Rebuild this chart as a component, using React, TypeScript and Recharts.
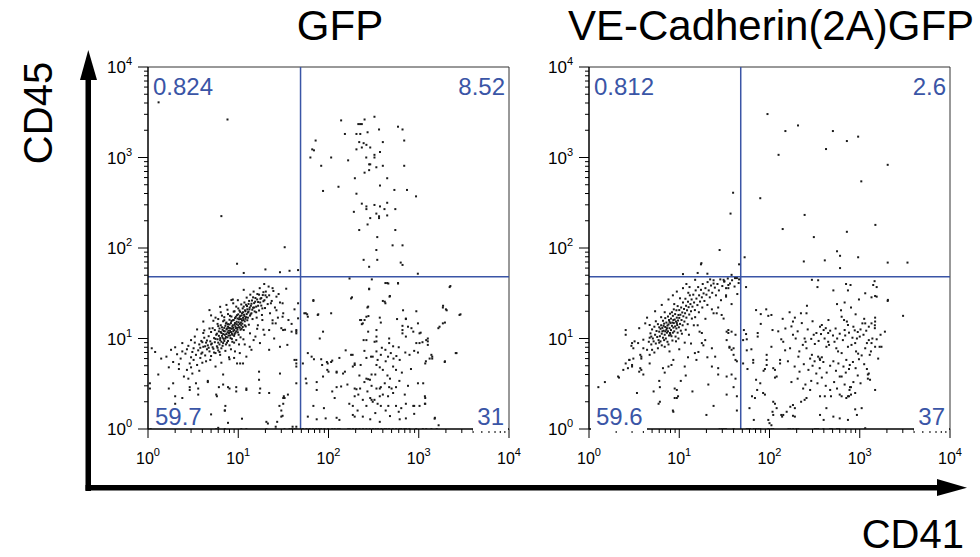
import { ScatterChart, Scatter, XAxis, YAxis, ReferenceLine } from 'recharts';

// flow plots: CD41 (x) vs CD45 (y), log axes 10^0..10^4, quadrant gates in blue

const MAJOR_TICKS = [1, 10, 100, 1000, 10000];
const TICK_EXPONENTS = ['0', '1', '2', '3', '4'];
const LOG_TICKS = [
  1, 2, 3, 4, 5, 6, 7, 8, 9,
  10, 20, 30, 40, 50, 60, 70, 80, 90,
  100, 200, 300, 400, 500, 600, 700, 800, 900,
  1000, 2000, 3000, 4000, 5000, 6000, 7000, 8000, 9000,
  10000,
];

const PANEL_TITLES = ['GFP', 'VE-Cadherin(2A)GFP'];
const X_TITLE = 'CD41';
const Y_TITLE = 'CD45';

// quadrant percentages: upper-left, upper-right, lower-left, lower-right
const GFP_QUADRANTS = ['0.824', '8.52', '59.7', '31'];
const VECAD_QUADRANTS = ['0.812', '2.6', '59.6', '37'];

const GFP_GATE = { x: 49, y: 48 };
const VECAD_GATE = { x: 48, y: 48 };

// GFP panel events [CD41, CD45]
const GFP_DOTS: [number, number][] = [
  // upper left
  [1.31, 4070], [7.6, 2630], [6.5, 225], [32.7, 102], [9.7, 67], [11.5, 53], [20, 58], [29, 54], [37, 56], [46, 57],
  // upper right
  [323, 2820], [138, 2570], [251, 2630], [214, 2340], [224, 2340], [234, 2340], [363, 2040], [589, 2190], [661, 2040],
  [152, 1820], [204, 1820], [225, 1820], [271, 1900], [72, 1540], [219, 1480], [245, 1440], [263, 1380], [400, 1480],
  [690, 1540], [66, 1230], [69, 1200], [204, 1230], [234, 1290], [290, 1290], [372, 1150], [63, 1000], [107, 1000],
  [165, 930], [262, 1000], [323, 1000], [323, 1070], [83, 810], [282, 840], [290, 840], [339, 780], [400, 810],
  [690, 810], [282, 725], [251, 680], [196, 590], [447, 590], [129, 475], [87, 427], [372, 490], [537, 438], [741, 438],
  [204, 398], [933, 372], [234, 309], [447, 316], [263, 288], [263, 269], [323, 299], [372, 288], [417, 269], [550, 269],
  [191, 251], [339, 240], [363, 224], [363, 214], [290, 214], [447, 229], [271, 182], [219, 158], [550, 158], [347, 132],
  [513, 107], [661, 107], [339, 95], [245, 74], [347, 74], [631, 69], [661, 65], [282, 62], [977, 52],
  // lower left
  [1.1, 7.8], [1.2, 7.1], [1.05, 3.2], [1.05, 2.8], [1.3, 4], [1.4, 6], [1.07, 1],
  [1.6, 6.3], [1.8, 7.5], [1.9, 5.5], [2.0, 8], [2.1, 6.7], [2.2, 4.6], [1.9, 3.2], [2.3, 6], [2.4, 7.2], [1.7, 4.8],
  [2.2, 5.2], [2.5, 3.8], [2.0, 1.9], [1.7, 2.8], [2.0, 2.3], [2.4, 2.2],
  [2.6, 6.8], [2.7, 4.5], [2.8, 8.3], [2.9, 5.3], [2.9, 2.7], [3.0, 6.2], [3.1, 7.1], [3.2, 5.8], [3.3, 9], [3.4, 3.2],
  [3.4, 6.6], [3.0, 4.8], [2.7, 7.6], [3.2, 7.8], [3.5, 5.1], [3.3, 10.5], [2.8, 3.6], [2.9, 2.9], [3.1, 4.1],
  [3.6, 7.4], [3.7, 8.6], [3.8, 6.1], [3.9, 9.4], [4.0, 7.0], [4.0, 5.4], [4.1, 8.1], [4.2, 10.2], [4.3, 6.5], [4.4, 9.0],
  [4.5, 7.6], [3.7, 4.4], [4.1, 11.5], [4.4, 5.6], [3.9, 6.8], [4.2, 12.3], [4.6, 3.4], [3.6, 2.4], [3.6, 2.8],
  [4.6, 8.4], [4.7, 10.6], [4.8, 7.2], [4.9, 9.3], [5.0, 11.8], [5.0, 6.4], [5.1, 8.8], [5.2, 13.0], [5.3, 7.7],
  [5.4, 10.1], [5.5, 9.1], [5.5, 12.4], [5.6, 6.9], [5.7, 11.0], [5.8, 8.2], [5.9, 14.5], [5.9, 9.8], [6.0, 7.4],
  [4.8, 12.9], [5.3, 15.7], [4.9, 5.8], [5.6, 4.9], [5.7, 1], [5.8, 2.3], [6.0, 16.4], [4.6, 3.3], [5.7, 2.4],
  [6.1, 10.7], [6.2, 12.9], [6.2, 8.6], [6.3, 9.6], [6.4, 14.0], [6.5, 11.5], [6.5, 7.8], [6.6, 13.3], [6.7, 10.2],
  [6.8, 15.5], [6.8, 8.9], [6.9, 12.1], [7.0, 9.4], [7.0, 17.2], [7.1, 11.0], [7.2, 13.8], [7.2, 7.3], [7.3, 10.4],
  [7.4, 15.0], [7.4, 12.6], [7.5, 9.0], [7.6, 11.7], [7.7, 14.4], [7.7, 18.6], [7.8, 10.8], [7.9, 13.1], [8.0, 8.4],
  [8.0, 16.1], [6.3, 6.6], [6.6, 17.9], [7.1, 1.6], [7.2, 1.8], [6.8, 4.0], [7.1, 1], [6.4, 19.5], [7.6, 20.8], [7.9, 6.2],
  [6.0, 1.03], [7.7, 1.17], [5.0, 1.45], [7.1, 1.6], [7.7, 2.9], [6.1, 2.9], [6.8, 3.1],
  [8.1, 12.2], [8.2, 10.1], [8.3, 14.8], [8.4, 17.5], [8.5, 11.3], [8.6, 9.2], [8.6, 13.6], [8.7, 15.9], [8.8, 12.0],
  [8.9, 19.8], [9.0, 10.7], [9.1, 14.2], [9.2, 16.8], [9.3, 11.6], [9.4, 13.0], [9.5, 22.5], [9.5, 9.6], [9.6, 15.3],
  [9.7, 18.1], [9.8, 12.5], [9.9, 26.5], [10.0, 14.0], [10.1, 11.0], [10.2, 16.3], [10.3, 20.4], [10.4, 13.2],
  [10.5, 17.7], [10.6, 10.3], [10.7, 15.0], [10.8, 23.8], [10.9, 12.8], [11.0, 19.0], [8.3, 7.6], [8.8, 24.5],
  [9.2, 7.2], [10.2, 8.6], [8.0, 2.8], [9.5, 2.6], [10.8, 1], [10.5, 5.3], [9.7, 5.3], [11.0, 1.3], [8.7, 27],
  [9.5, 2.9], [11.3, 5.3], [12.3, 2.8],
  [11.1, 14.6], [11.2, 21.5], [11.3, 16.9], [11.5, 12.4], [11.6, 18.3], [11.7, 25.0], [11.8, 15.5], [12.0, 20.0],
  [12.1, 13.6], [12.2, 17.2], [12.4, 28.3], [12.5, 22.8], [12.6, 15.9], [12.8, 19.4], [13.0, 24.1], [13.1, 14.2],
  [13.3, 21.0], [13.5, 17.9], [13.6, 30.5], [13.8, 23.0], [14.0, 19.0], [14.2, 26.3], [14.4, 16.4], [14.6, 21.9],
  [14.8, 33.0], [15.0, 24.6], [11.4, 9.8], [12.3, 2.7], [12.3, 1], [13.5, 11.4], [14.0, 7.5], [11.5, 34.5],
  [15.2, 19.9], [15.5, 28.0], [15.8, 22.5], [16.0, 17.0], [16.3, 31.0], [16.6, 25.3], [17.0, 20.4], [17.3, 36.0],
  [17.6, 27.5], [18.0, 23.1], [18.3, 18.2], [18.7, 30.2], [19.0, 25.8], [19.4, 40.0], [19.8, 21.7], [20.2, 33.0],
  [20.7, 28.6], [21.2, 24.0], [21.7, 37.5], [22.0, 30.0], [16.5, 14.0], [17.0, 4.3], [17.0, 3.5], [17.2, 2.5],
  [17.5, 2.8], [20.5, 1], [19.0, 12.5], [22.0, 7.5], [22.0, 2.5], [18.5, 16.0], [20.5, 1.2], [21.3, 1.15],
  [22.5, 19.0], [23.5, 26.0], [24.5, 33.5], [25.5, 22.0], [26.5, 29.0], [27.5, 17.0], [29.0, 25.0], [30.0, 13.0],
  [31.5, 19.0], [33.0, 12.5], [36.0, 16.0], [39.0, 14.5], [42.0, 21.0], [44.0, 11.4], [44.0, 12.4], [46.0, 16.7],
  [46.0, 24.5], [29.0, 4.1], [31.5, 1.9], [31.5, 2.2], [32.0, 2.3], [30.0, 1.6], [31.0, 1.4], [30.0, 1.37], [44.0, 3.2],
  [44.0, 5.3], [44.0, 5.8], [26.0, 1], [32.5, 1], [37.0, 1], [39.0, 1], [42.0, 1], [44.0, 1], [24.0, 36.0], [28.0, 31.0],
  [25.0, 10.0], [35.0, 8.5], [27, 1.2], [31, 24.5], [34, 35.5], [23, 24.5], [26, 14.7], [31, 17.4], [39, 11.9],
  [44, 11.9], [29, 8.1], [42, 5.8], [44, 4.9], [35.5, 2.4], [32.6, 2.2], [28.6, 1.8], [26, 1.06], [40, 1.06], [44, 1.06],
  [5.6, 9.9], [5.8, 11.3], [6.0, 9.0], [6.1, 12.0], [6.3, 10.1], [6.4, 11.8], [6.5, 9.2], [6.6, 10.7], [6.7, 12.5],
  [6.8, 11.2], [6.9, 9.9], [7.0, 13.1], [7.1, 12.0], [7.2, 10.0], [7.3, 14.6], [7.4, 11.2], [7.5, 12.9], [7.6, 10.3],
  [7.7, 13.5], [7.8, 12.2], [7.9, 11.5], [8.0, 14.3], [8.1, 10.8], [8.2, 13.0], [8.3, 11.8], [8.4, 15.6], [8.5, 12.8],
  [8.6, 11.0], [8.7, 14.0], [8.8, 13.1], [8.9, 16.0], [9.0, 12.4], [9.1, 11.2], [9.2, 14.8], [9.3, 13.6], [9.4, 17.4],
  [9.5, 12.0], [9.6, 14.4], [9.7, 13.1], [9.8, 16.6], [9.9, 11.7], [10.0, 18.5], [10.1, 15.1], [10.2, 13.3],
  [10.3, 17.0], [10.4, 14.5], [10.5, 19.7], [10.6, 12.5], [10.7, 16.4], [10.8, 14.0], [10.9, 18.0], [11.0, 15.8],
  [11.2, 13.4], [11.3, 19.5], [11.4, 16.0], [11.5, 22.5], [11.7, 17.6], [11.8, 14.0], [11.9, 20.5], [12.0, 16.5],
  [12.2, 23.6], [12.4, 18.6], [12.6, 21.0], [12.8, 17.0], [13.0, 19.8], [13.2, 26.0], [13.4, 22.0], [13.7, 18.5],
  [14.0, 24.2], [14.3, 20.8], [14.6, 28.5], [15.0, 22.0], [15.4, 25.5], [15.8, 19.5], [16.2, 27.0], [16.6, 23.0],
  [17.0, 30.5], [17.5, 25.0], [18.0, 28.0], [18.5, 21.5], [19.0, 32.5], [19.5, 26.5], [20.0, 30.0], [5.2, 8.0],
  [5.4, 7.0], [5.0, 8.6], [4.7, 7.9], [4.5, 9.5], [4.3, 8.2], [4.0, 9.1], [3.8, 7.9], [5.9, 7.9], [6.2, 7.1], [6.7, 8.3],
  [7.3, 8.6], [7.7, 9.4], [8.5, 9.9], [9.0, 9.0], [7.0, 15.9], [6.0, 13.7], [8.1, 17.8], [9.1, 20.0], [10.0, 21.5],
  [2.4, 8.9], [5.0, 18.0], [6.3, 22.4], [8.4, 26.6], [4.8, 20.6], [4.1, 15.4], [3.5, 12.6], [5.6, 17.0], [7.4, 23.5],
  [13.4, 8.1], [17.4, 8.9], [22, 12.4], [24, 14.7], [24, 15.9], [10.4, 6.9], [12.3, 6.3], [31.4, 12.4], [15.5, 10.5],
  [19.5, 11.0], [11.8, 8.6], [14.8, 9.6], [9.0, 6.1], [16.2, 12.8], [26.5, 20.5], [6.5, 5.4], [8.0, 5.9], [3.0, 9.6],
  // lower right
  [282, 35], [447, 41], [589, 41], [68, 26], [182, 28.5], [400, 26], [427, 24.5], [479, 29.5], [2240, 38], [54, 19],
  [58, 18.5], [77, 18.5], [107, 19], [270, 22], [277, 17.7], [940, 20], [1860, 23], [2000, 21], [1950, 15], [2900, 18.5],
  [224, 16], [251, 16], [234, 14.4], [370, 17], [380, 15], [575, 16.4], [720, 16.4], [660, 13.8], [660, 12.4],
  [660, 11.4], [340, 12.4], [720, 10.5], [870, 11.9], [1050, 11.6], [1260, 10], [1260, 9.3], [1260, 8.5], [940, 8.9],
  [1100, 9.1], [1650, 13], [80, 10], [263, 9.6], [324, 9.2], [340, 9.3], [470, 8.9], [470, 10], [245, 9.6],
  [171, 46], [302, 45], [427, 41], [282, 35.5],
  [1500, 1.3], [1170, 2.3], [1170, 1.9], [1020, 1.8], [870, 1.8], [1120, 3.2], [980, 3.2], [1320, 6], [1380, 6.6],
  [1940, 5.5], [2620, 6.9], [1700, 13.5], [1850, 14.7], [1850, 22], [2040, 20.5], [2200, 37], [2830, 18.2], [1210, 9.6],
  [1020, 8.9], [1020, 11.4], [830, 13], [760, 13.5], [720, 16.6], [980, 14.7], [670, 20.5], [475, 29], [460, 40.5],
  [420, 25.5], [590, 40.5], [275, 22.5], [263, 17.4], [230, 16], [240, 14.7], [275, 11.9], [340, 10.5], [178, 27.7],
  [87, 11.9], [56, 19], [59, 17.4], [68, 26.6], [76, 18.2], [59, 6.9], [65, 6.3], [52, 5.3], [98, 5.3], [107, 5.5],
  [100, 4.3], [87, 3.8], [123, 4.3], [145, 4.1], [195, 5.3],
  [178, 6.6], [185, 6.6], [69, 5.9], [83, 5.9], [85, 5.1], [96, 5.5], [110, 5.7], [132, 6.1], [56, 3.6], [74, 2.7],
  [97, 4.5], [123, 4.2], [152, 4.3], [186, 4.9], [195, 5.1], [227, 5.1], [263, 6.1], [296, 6.3], [309, 6.3], [340, 7.2],
  [380, 6.6], [427, 7.5], [457, 6.3], [490, 6.9], [525, 6.0], [565, 6.4], [615, 5.8], [710, 7.0], [790, 6.6], [890, 7.3],
  [980, 7.0], [1180, 5.3], [1200, 5.6], [1410, 6.3], [1410, 6.0], [1950, 5.6], [2570, 6.9], [340, 5.1], [370, 4.8],
  [400, 4.5], [430, 5.6], [450, 3.9], [480, 3.6], [520, 4.9], [560, 4.5],
  [263, 3.6], [275, 3.55], [288, 3.5], [340, 2.8], [370, 2.8], [380, 2.9], [470, 2.9], [500, 2.8], [560, 2.9], [195, 2.8],
  [204, 2.75], [224, 2.8], [162, 3.1], [123, 2.9], [138, 2.95], [110, 2.6], [74, 3.3], [57, 3.2], [117, 2.2], [195, 2.3],
  [214, 2.4], [290, 2.2], [300, 2.1], [309, 2.0], [323, 2.1], [370, 2.3], [400, 2.4], [457, 2.3], [560, 1.8], [640, 1.7],
  [720, 1.9], [890, 1.8], [1180, 1.9], [1180, 2.2], [68, 1.8], [89, 1.7], [170, 1.9], [186, 1.8], [240, 2.1], [263, 1.8],
  [350, 1.9], [380, 1.8], [460, 1.8],
  [59, 1.37], [74, 1.28], [93, 1.31], [123, 1.33], [132, 1.26], [240, 1.37], [290, 1.28], [370, 1.2], [480, 1.39],
  [615, 1.28], [720, 1.31], [890, 1.47], [1510, 1.33], [1660, 1.1], [186, 1.43], [195, 1.37],
  [250, 3.3], [300, 3.0], [330, 4.0], [420, 3.2], [520, 2.5], [610, 3.4], [650, 4.2], [760, 3.0], [820, 4.6], [300, 4.0],
  [350, 5.8], [600, 8.0], [390, 7.9], [520, 8.2], [250, 7.3], [220, 3.9], [155, 7.4], [700, 2.4], [270, 2.6], [430, 1.6],
  [600, 1.55], [330, 1.5], [210, 1.6],
  [57, 1], [67, 1], [73, 1], [83, 1], [99, 1], [117, 1], [127, 1], [133, 1], [165, 1], [172, 1], [187, 1], [203, 1],
  [221, 1], [241, 1], [263, 1], [286, 1], [311, 1], [333, 1], [354, 1], [385, 1], [419, 1], [437, 1], [470, 1], [516, 1],
  [562, 1], [612, 1], [638, 1], [694, 1], [724, 1], [787, 1], [936, 1], [1110, 1], [1210, 1], [1380, 1], [1580, 1],
  [52, 1], [62, 1], [78, 1], [90, 1], [110, 1],
];

// VE-Cadherin(2A)GFP panel events [CD41, CD45]
const VECAD_DOTS: [number, number][] = [
  // upper left
  [39.5, 408], [37, 240], [28, 95], [17.6, 68], [11, 51.5], [20.5, 52], [17.4, 66], [46, 66], [16, 53], [38, 50.5],
  // upper right
  [95, 3020], [207, 2260], [150, 1960], [504, 1960], [960, 1700], [720, 1520], [423, 1240], [126, 1070], [2040, 830],
  [1040, 545], [79, 355], [245, 232], [140, 162], [1490, 180], [720, 151], [310, 132], [560, 92], [605, 82], [53, 79],
  [240, 71], [410, 73], [960, 79], [2040, 69], [3380, 69], [605, 60],
  // lower left
  [1.27, 2.9], [1.5, 3.3], [2.1, 3.8], [2.4, 4.5], [2.8, 5.8], [3.1, 6], [3.0, 5.1], [3.8, 6], [3.7, 4.7], [4.0, 4.0],
  [6.1, 2.9], [4.7, 5.3], [6.6, 4.7], [7.6, 4.9], [8.6, 5.8], [8.9, 2.8], [9.4, 2.2], [9.7, 2.3], [8.6, 1.55],
  [5.9, 1.9], [3.4, 2.5], [11.5, 4.9], [15.5, 5.8], [17.8, 8.9], [19.4, 9.6], [16.8, 11.9], [17.8, 11.5], [24, 19],
  [26, 19], [29.5, 18.2], [31, 16.6], [35, 12.4], [33.5, 11.9], [38, 11.9], [42, 11], [33.5, 9.6], [36, 8.1], [23, 4.9],
  [27, 4.7], [33.5, 3.8], [38, 4], [42, 5.8], [43.5, 5.6], [40, 2.9], [42, 3.6], [43.5, 2.3], [38, 7.5], [40, 7.8],
  [40, 6.6], [24, 1.8], [20, 1.43], [33.5, 2.4], [43.5, 1.6], [29.5, 1], [31, 1], [32, 1], [40, 1], [28, 1], [33, 1],
  [2.15, 3.7], [2.55, 5.3], [2.55, 12.4], [2.55, 11], [2.95, 8.3], [3.5, 8.9], [4.0, 7.8], [3.8, 4.5], [3.6, 4.3],
  [4.7, 6.6], [6.1, 2.0], [8.5, 1.6], [9.4, 2.7], [8.9, 2.2], [4.2, 14.7], [4.7, 14.1], [3, 8.9], [3.1, 7.8],
  [3.2, 9.3], [4.0, 9.7], [4.4, 7.5], [4.9, 10.5], [3.7, 6.6], [3.8, 6.3], [2.8, 5.8], [3.0, 4.9], [2.7, 4.7],
  [6.9, 4.2], [8.2, 5.1], [11.8, 3.9], [14.9, 6.9], [16.3, 7.1], [18.5, 8.4], [20.5, 6.2], [23, 7.8], [25, 6.3], [27, 4.0],
  [35, 11.5], [36, 7.9], [33, 30], [35, 36], [31.6, 43], [13, 37], [15, 44.5], [24, 40.5], [31, 44.5], [35, 39],
  [41.5, 46.5], [12.5, 6.2], [10.4, 3.4], [14, 2.6], [21, 3.1], [6.0, 3.4], [5.2, 2.6],
  [4.6, 9.2], [4.8, 11.4], [4.9, 8.6], [5.0, 12.6], [5.1, 10.0], [5.2, 9.3], [5.3, 13.5], [5.4, 11.0], [5.5, 8.8],
  [5.6, 12.1], [5.7, 10.4], [5.8, 14.4], [5.9, 9.6], [6.0, 11.9], [5.0, 7.5], [5.5, 15.5], [4.7, 10.2], [5.3, 7.0],
  [5.8, 7.8], [6.0, 13.3],
  [6.1, 10.6], [6.2, 12.8], [6.2, 9.3], [6.3, 14.0], [6.4, 11.3], [6.4, 8.4], [6.5, 13.1], [6.6, 10.2], [6.6, 15.7],
  [6.7, 12.2], [6.8, 9.6], [6.8, 14.6], [6.9, 11.0], [7.0, 13.4], [7.0, 16.8], [7.1, 10.0], [7.2, 12.5], [7.2, 15.0],
  [7.3, 11.6], [7.4, 13.9], [7.4, 9.2], [7.5, 17.5], [7.5, 12.0], [7.6, 14.3], [7.7, 10.8], [7.7, 16.0], [7.8, 13.0],
  [7.9, 11.5], [7.9, 18.8], [8.0, 14.8], [6.3, 17.2], [6.9, 8.1], [7.6, 8.6], [6.5, 12.0], [7.0, 12.0], [7.3, 13.0],
  [6.7, 13.8], [7.8, 15.3], [6.0, 9.0], [6.9, 19.5],
  [8.1, 12.4], [8.1, 16.6], [8.2, 10.6], [8.3, 13.8], [8.3, 19.5], [8.4, 15.0], [8.5, 11.6], [8.5, 17.8], [8.6, 13.2],
  [8.7, 14.8], [8.7, 21.0], [8.8, 12.0], [8.9, 16.2], [9.0, 13.6], [9.0, 18.6], [9.1, 10.5], [9.2, 15.4], [9.3, 12.9],
  [9.3, 20.5], [9.4, 17.0], [9.5, 14.1], [9.6, 11.6], [9.6, 22.8], [9.7, 15.8], [9.8, 18.2], [9.9, 13.3], [10.0, 16.9],
  [10.0, 20.6], [8.4, 9.5], [9.2, 9.3], [8.8, 24.0], [9.8, 10.0], [8.0, 11.0], [8.6, 16.0], [9.4, 14.8],
  [10.2, 14.5], [10.3, 18.3], [10.4, 12.2], [10.5, 22.0], [10.6, 16.0], [10.8, 19.4], [10.9, 14.0], [11.0, 25.0],
  [11.1, 17.6], [11.3, 21.2], [11.4, 15.4], [11.6, 19.0], [11.7, 27.5], [11.9, 23.0], [12.0, 17.0], [12.2, 20.5],
  [12.4, 14.4], [12.5, 25.5], [12.7, 22.2], [12.9, 18.4], [13.1, 30.0], [13.3, 24.0], [13.5, 20.0], [13.7, 27.0],
  [14.0, 22.5], [10.7, 11.3], [11.8, 12.5], [12.6, 32.0], [13.8, 16.6], [10.2, 27.8], [11.5, 9.0], [12.8, 11.0],
  [14.3, 30.5], [14.6, 25.0], [14.9, 20.6], [15.2, 34.0], [15.5, 27.6], [15.9, 23.4], [16.2, 37.0], [16.6, 30.0],
  [17.0, 25.6], [17.4, 34.5], [17.8, 28.5], [18.2, 40.0], [18.6, 31.5], [19.0, 26.0], [19.5, 36.0], [20.0, 30.5],
  [20.6, 42.0], [21.2, 34.0], [21.8, 28.5], [22.5, 38.5], [23.2, 32.0], [24.0, 44.0], [24.8, 36.5], [15.0, 17.2],
  [16.5, 19.5], [18.0, 22.0], [14.5, 14.0], [20.5, 23.5], [22.0, 45.0], [25.5, 30.0],
  [26.5, 40.0], [27.5, 34.0], [28.5, 45.0], [30.0, 38.0], [31.5, 42.5], [33.0, 36.0], [34.5, 46.0], [36.5, 40.5],
  [38.5, 44.0], [41.0, 37.5], [43.5, 46.5], [45.5, 41.0], [29, 26.5], [33, 29], [38, 24], [44, 31], [46, 45], [27, 22],
  [3.6, 13.0], [4.4, 17.0], [5.4, 20.0], [6.4, 23.5], [7.6, 27.0], [9.4, 33.0], [11.0, 36.0], [13.5, 8.8], [16.0, 14.0],
  [19.5, 16.5], [23.0, 21.0], [10.0, 7.6], [7.8, 7.2], [12.0, 40.0], [8.5, 30.0],
  // lower right
  [295, 44.5], [340, 37], [705, 40], [790, 39], [1460, 43], [1540, 37], [510, 34], [740, 34], [1150, 31.6], [1350, 28.5],
  [1480, 29.5], [980, 27], [2040, 26], [680, 25], [55, 37], [346, 44], [1410, 39], [1540, 29], [2050, 26.7],
  [71, 20.6], [80, 18.6], [97, 17.8], [105, 18.2], [92, 21], [167, 19.5], [191, 17], [223, 19], [257, 19], [182, 15.4],
  [620, 20.5], [630, 17.4], [670, 16], [720, 15.4], [740, 14.1], [850, 13.5], [680, 12.4], [1070, 14.7], [1150, 14.7],
  [1260, 13.5], [1480, 17], [1480, 15.4], [1350, 14.7], [1900, 11.9], [3020, 17.8], [80, 14.5], [52, 12.4], [55, 11.2],
  [56, 9.8], [74, 11.5], [74, 10.5], [108, 12.4], [63, 7.6], [56, 7.4], [51, 9.6], [51, 5.3], [57, 4.6], [66, 5.8],
  [66, 5.4], [93, 6.6], [93, 5.8], [93, 5.1], [71, 3.5], [86, 4.4], [89, 4.6], [110, 4.7], [115, 4.5], [120, 3.8],
  [115, 3.7], [131, 5.8], [131, 5.3], [105, 8.1], [149, 7.4], [169, 7.8], [142, 9.2], [135, 9.8], [182, 11], [195, 10],
  [209, 6.3], [214, 7.2], [234, 8.5], [251, 9.2], [245, 10], [257, 7.8], [282, 6], [295, 6.6], [316, 5.6], [309, 11],
  [331, 11.5], [363, 13.5], [380, 14.1], [398, 12.4], [408, 10], [447, 11.5], [447, 9.2], [346, 6.3], [360, 6],
  [363, 5.8], [380, 6.2], [427, 8.1], [457, 8.5], [525, 9.2], [562, 10], [550, 7.8], [575, 7.2], [630, 6.9], [740, 8.1],
  [810, 8.5], [890, 8.9], [930, 10], [1000, 10.5], [1150, 7.8], [1200, 8.9], [1260, 9.6], [1350, 8.9], [1380, 10],
  [1480, 8.1], [1540, 9.8], [1740, 8.1], [910, 7.2], [960, 6.8], [710, 5.8], [775, 5.1], [760, 4.6], [600, 3.8],
  [630, 3.8], [1200, 4.6], [1260, 4.1], [1300, 3.5], [1480, 2.7], [800, 2.9], [770, 2.7], [800, 2.4], [600, 2.4],
  [710, 2.2], [890, 1.65], [1050, 1.7], [930, 1.43], [470, 2.7], [480, 2.3], [410, 2.3], [363, 2.3], [427, 1.7],
  [363, 1.43], [398, 1.26], [282, 2.7], [236, 2.8], [257, 2.2], [224, 2.0], [245, 2.1], [182, 1.84], [191, 1.7],
  [170, 1.76], [142, 1.43], [155, 1.55], [120, 1.7], [110, 2.0], [115, 1.9], [89, 2.4], [85, 2.5], [79, 3.2], [73, 2.7],
  [60, 1.7], [64, 2.3], [69, 2.2], [108, 1.55], [110, 1.43], [135, 1.43], [138, 1.37], [67, 1.26], [97, 1.26],
  [100, 1.16], [105, 1.1], [182, 1.4], [191, 1.37], [510, 1.37], [600, 1.31], [740, 1.26], [1150, 1.02],
  [1470, 14], [1470, 13], [1660, 8.1], [1290, 6.6], [1230, 3.6], [1230, 4.0], [890, 2.5], [780, 2.9], [740, 2.3],
  [760, 2.3], [630, 2.3],
  [150, 12.9], [175, 13.6], [205, 12.0], [228, 14.8], [265, 12.6], [290, 9.9], [318, 8.7], [350, 9.4], [372, 11.2],
  [420, 13.0], [470, 12.2], [505, 10.8], [540, 12.9], [600, 11.3], [650, 9.6], [690, 10.8], [760, 11.6], [830, 10.2],
  [880, 12.3], [950, 11.8], [1020, 12.6], [1100, 11.0], [1180, 12.2], [160, 5.6], [190, 4.9], [215, 4.3], [240, 5.2],
  [270, 4.5], [300, 5.0], [330, 4.1], [360, 4.7], [395, 5.5], [430, 4.2], [470, 5.0], [510, 5.6], [545, 4.4], [580, 5.3],
  [660, 4.9], [700, 4.2], [840, 5.5], [900, 4.7], [980, 5.9], [1050, 6.5], [1120, 5.2], [175, 3.3], [205, 3.6],
  [250, 3.1], [290, 3.4], [340, 3.2], [380, 3.7], [420, 3.0], [520, 3.3], [560, 2.8], [680, 3.1], [850, 3.3], [950, 3.9],
  [1020, 3.2], [1330, 7.2], [1600, 6.0], [1700, 11.0], [1120, 16.5], [900, 18.5], [800, 22.0], [560, 24.0], [450, 16.0],
  [300, 15.5], [140, 16.5], [125, 12.0], [260, 23.0],
  [56, 1], [61, 1], [67, 1], [71, 1], [75, 1], [79, 1], [97, 1], [105, 1], [162, 1], [170, 1], [183, 1], [199, 1],
  [209, 1], [318, 1], [331, 1], [346, 1], [396, 1], [470, 1], [490, 1], [560, 1], [590, 1], [1140, 1], [58, 1], [110, 1],
];

const BLUE = '#3a55a6';
const FONT = '"Liberation Sans", Arial, Helvetica, sans-serif';
const toPoints = (pairs: [number, number][]) => pairs.map(([x, y]) => ({ x, y }));

const XTick = (props: any) => {
  const { x, y, payload } = props;
  const i = MAJOR_TICKS.indexOf(payload.value);
  const major = i >= 0;
  return (
    <g>
      <line x1={x} x2={x} y1={y} y2={y + (major ? 9 : 4)} stroke="#000" strokeWidth={1} />
      {major && (
        <text x={x} y={y + 35} textAnchor="middle" fontSize={16} fontFamily={FONT} fill="#000">
          10
          <tspan dy={-8} fontSize={11}>{TICK_EXPONENTS[i]}</tspan>
        </text>
      )}
    </g>
  );
};

const YTick = (props: any) => {
  const { x, y, payload } = props;
  const i = MAJOR_TICKS.indexOf(payload.value);
  const major = i >= 0;
  return (
    <g>
      <line x1={x - (major ? 10 : 4)} x2={x} y1={y} y2={y} stroke="#000" strokeWidth={1} />
      {major && (
        <text x={x - 16} y={y + 6} textAnchor="end" fontSize={17} fontFamily={FONT} fill="#000">
          10
          <tspan dy={-8} fontSize={11}>{TICK_EXPONENTS[i]}</tspan>
        </text>
      )}
    </g>
  );
};

const Dot = (props: any) => <rect x={props.cx - 1} y={props.cy - 1} width={2} height={2} fill="#1a1a1a" />;

function FlowPanel({ dots, gate }: { dots: [number, number][]; gate: { x: number; y: number } }) {
  return (
    <ScatterChart width={451} height={427} margin={{ top: 20, right: 30, bottom: 0, left: 0 }}>
      <XAxis
        type="number"
        dataKey="x"
        scale="log"
        domain={[1, 10000]}
        ticks={LOG_TICKS}
        interval={0}
        allowDataOverflow
        height={45}
        tickSize={0}
        tickMargin={0}
        tickLine={false}
        axisLine={{ stroke: '#000', strokeWidth: 1.5 }}
        tick={(p: any) => <XTick {...p} />}
      />
      <YAxis
        type="number"
        dataKey="y"
        scale="log"
        domain={[1, 10000]}
        ticks={LOG_TICKS}
        interval={0}
        allowDataOverflow
        width={60}
        tickSize={0}
        tickMargin={0}
        tickLine={false}
        axisLine={{ stroke: '#000', strokeWidth: 1.5 }}
        tick={(p: any) => <YTick {...p} />}
      />
      <ReferenceLine y={10000} stroke="#333" strokeWidth={1} />
      <ReferenceLine x={10000} stroke="#333" strokeWidth={1} />
      <Scatter data={toPoints(dots)} shape={Dot} isAnimationActive={false} />
      <ReferenceLine x={gate.x} stroke={BLUE} strokeWidth={1.5} />
      <ReferenceLine y={gate.y} stroke={BLUE} strokeWidth={1.5} />
    </ScatterChart>
  );
}

function QuadrantLabels({ left, labels, cover }: { left: number; labels: string[]; cover: boolean }) {
  const right = left + 361;
  return (
    <g fontFamily={FONT} fontSize={24} fill={BLUE}>
      {cover && <rect x={left + 2} y={406} width={56} height={25} fill="#fff" />}
      <rect x={right - 36} y={406} width={35} height={25} fill="#fff" />
      <text x={left + 5} y={95}>{labels[0]}</text>
      <text x={right - 4} y={95} textAnchor="end">{labels[1]}</text>
      <text x={left + 7} y={425}>{labels[2]}</text>
      <text x={right - 5} y={425} textAnchor="end">{labels[3]}</text>
    </g>
  );
}

export default function App() {
  return (
    <div style={{ position: 'absolute', left: 0, top: 0, width: 980, height: 557, background: '#fff', fontFamily: FONT }}>
      <div style={{ position: 'absolute', left: 88, top: 47 }}>
        <FlowPanel dots={GFP_DOTS} gate={GFP_GATE} />
      </div>
      <div style={{ position: 'absolute', left: 529, top: 47 }}>
        <FlowPanel dots={VECAD_DOTS} gate={VECAD_GATE} />
      </div>
      <svg width={980} height={557} style={{ position: 'absolute', left: 0, top: 0, pointerEvents: 'none' }}>
        <QuadrantLabels left={148} labels={GFP_QUADRANTS} cover={false} />
        <QuadrantLabels left={589} labels={VECAD_QUADRANTS} cover={true} />
        {/* axis arrows */}
        <rect x={85.5} y={78} width={5.5} height={413} fill="#000" />
        <polygon points="80,80 97,80 88.3,50" fill="#000" />
        <rect x={85.5} y={485} width={854} height={5.5} fill="#000" />
        <polygon points="937,479 937,496 967,487.7" fill="#000" />
        <g fontFamily={FONT} fill="#000">
          <text x={340} y={40} textAnchor="middle" fontSize={42}>{PANEL_TITLES[0]}</text>
          <text x={771} y={40} textAnchor="middle" fontSize={42}>{PANEL_TITLES[1]}</text>
          <text x={52} y={113} textAnchor="middle" fontSize={40} transform="rotate(-90 52 113)">{Y_TITLE}</text>
          <text x={964} y={548} textAnchor="end" fontSize={40}>{X_TITLE}</text>
        </g>
      </svg>
    </div>
  );
}
